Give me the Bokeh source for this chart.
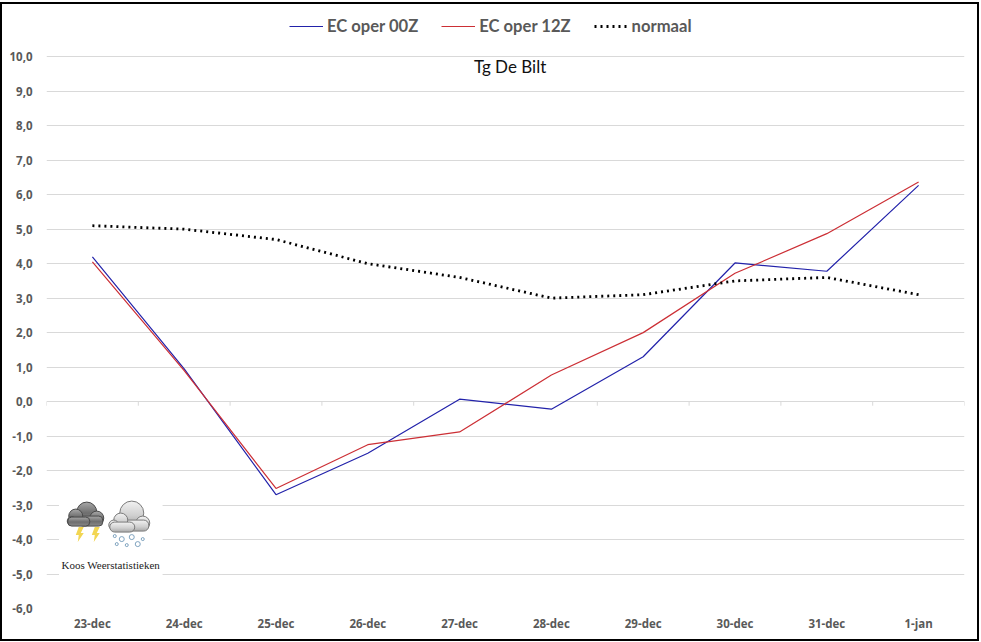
from urllib.parse import quote
from bokeh.plotting import figure
from bokeh.models import Legend, LegendItem, FixedTicker, Range1d, Label
from bokeh.embed import file_html
from bokeh.resources import INLINE

categories = ["23-dec", "24-dec", "25-dec", "26-dec", "27-dec", "28-dec", "29-dec", "30-dec", "31-dec", "1-jan"]
ec_00z = [4.2, 0.95, -2.7, -1.5, 0.07, -0.22, 1.3, 4.02, 3.78, 6.27]
ec_12z = [4.05, 0.9, -2.52, -1.25, -0.88, 0.77, 2.0, 3.72, 4.87, 6.37]
normaal = [5.1, 5.0, 4.7, 4.0, 3.6, 3.0, 3.1, 3.5, 3.6, 3.1]
y_ticks = list(range(-6, 11))
chart_title = "Tg De Bilt"
credit = "Koos Weerstatistieken"

x = [i + 0.5 for i in range(len(categories))]
boundaries = list(range(len(categories) + 1))

GREY = "#595959"
GRID = "#d9d9d9"

p = figure(width=975, height=635, output_backend="svg", toolbar_location=None,
           x_range=Range1d(0, 10), y_range=Range1d(-6, 11.515),
           min_border_left=44, min_border_right=17, min_border_top=0, min_border_bottom=35,
           margin=(2, 0, 0, 0), background_fill_color="white", border_fill_color="white")
p.styles = {"border": "2px solid #000", "box-sizing": "content-box"}
p.outline_line_color = None
p.xgrid.visible = False
p.ygrid.grid_line_color = GRID
p.ygrid.grid_line_width = 1
p.ygrid.ticker = FixedTicker(ticks=y_ticks)

p.xaxis.ticker = FixedTicker(ticks=x)
p.xaxis.major_label_overrides = {v: c for v, c in zip(x, categories)}
p.yaxis.ticker = FixedTicker(ticks=y_ticks)
p.yaxis.major_label_overrides = {v: f"{v},0" for v in y_ticks}
for ax in (p.xaxis[0], p.yaxis[0]):
    ax.axis_line_color = None
    ax.major_tick_line_color = None
    ax.minor_tick_line_color = None
    ax.major_label_text_color = GREY
    ax.major_label_text_font = "Open Sans"
    ax.major_label_text_font_style = "bold"
    ax.major_label_text_font_size = "11.5px"
p.xaxis[0].major_label_standoff = 1
p.yaxis[0].major_label_standoff = 8

# category ticks on the zero line
p.segment(x0=boundaries, y0=[0] * len(boundaries), x1=boundaries, y1=[-0.12] * len(boundaries),
          line_color=GRID, line_width=1)

icon_svg = """<svg xmlns='http://www.w3.org/2000/svg' width='104' height='80' viewBox='0 0 104 80'>
<defs>
<linearGradient id='d' x1='0' y1='0' x2='0' y2='1'><stop offset='0' stop-color='#a8a8a8'/><stop offset='0.55' stop-color='#6e6e6e'/><stop offset='1' stop-color='#8a8a8a'/></linearGradient>
<linearGradient id='l' x1='0' y1='0' x2='0' y2='1'><stop offset='0' stop-color='#f2f2f2'/><stop offset='0.6' stop-color='#cfcfcf'/><stop offset='1' stop-color='#a8a8a8'/></linearGradient>
</defs>
<rect width='104' height='80' fill='white'/>
<g fill='url(#d)' stroke='#4a4a4a' stroke-width='1'>
<circle cx='28' cy='16' r='10'/><circle cx='38' cy='22' r='7'/><rect x='20' y='20' width='24' height='10' rx='4'/>
<circle cx='17' cy='20' r='7'/><circle cx='13' cy='25' r='4.5'/><rect x='9' y='21' width='22' height='9' rx='4'/>
</g>
<polygon points='20,31 25,31 22,37 25,37 19,46 20,39 17,39' fill='#f2d653'/>
<polygon points='36,31 41,31 38,37 41,37 35,46 36,39 33,39' fill='#f2d653'/>
<g fill='url(#l)' stroke='#7a7a7a' stroke-width='1'>
<circle cx='73' cy='17' r='12'/><circle cx='84' cy='27' r='7'/><rect x='62' y='24' width='28' height='11' rx='5'/>
<circle cx='62' cy='24' r='7'/><circle cx='55' cy='29' r='5'/><rect x='51' y='26' width='25' height='10' rx='5'/>
</g>
<g fill='white' stroke='#7fa3bf' stroke-width='1'>
<circle cx='56' cy='40' r='1.5'/><circle cx='63' cy='43' r='2.5'/><circle cx='73' cy='41' r='2.5'/><circle cx='84' cy='43' r='1.5'/>
<circle cx='58' cy='48' r='1.5'/><circle cx='68' cy='49' r='1.5'/><circle cx='79' cy='48' r='2.5'/>
</g></svg>"""
p.image_url(url=["data:image/svg+xml," + quote(icon_svg)], x=[0.7], y=[-3.9], w=[104], h=[80],
            w_units="screen", h_units="screen", anchor="center")

r0 = p.line(x, ec_00z, line_color="#2222aa", line_width=1.2)
r1 = p.line(x, ec_12z, line_color="#cc2f35", line_width=1.2)
r2 = p.line(x, normaal, line_color="#000000", line_width=2.8, line_dash="2 4")

legend = Legend(items=[LegendItem(label="EC oper 00Z", renderers=[r0]),
                       LegendItem(label="EC oper 12Z", renderers=[r1]),
                       LegendItem(label="normaal", renderers=[r2])],
                orientation="horizontal", location=(243, 572),
                background_fill_alpha=0, border_line_color=None,
                glyph_width=34, glyph_height=14, label_standoff=4, spacing=23, margin=0, padding=0,
                label_text_font="Lato", label_text_font_style="bold",
                label_text_font_size="16.6px", label_text_color=GREY)
p.add_layout(legend, "center")

p.add_layout(Label(x=5.05, y=9.71, text=chart_title, text_align="center", text_baseline="middle",
                   text_font="Lato", text_font_size="17px", text_color="#111111"))
p.add_layout(Label(x=0.7, y=-4.75, text=credit, text_align="center", text_baseline="middle",
                   text_font="Liberation Serif", text_font_size="11px", text_color="#222222"))

open("out.html", "w").write(file_html(p, INLINE))
